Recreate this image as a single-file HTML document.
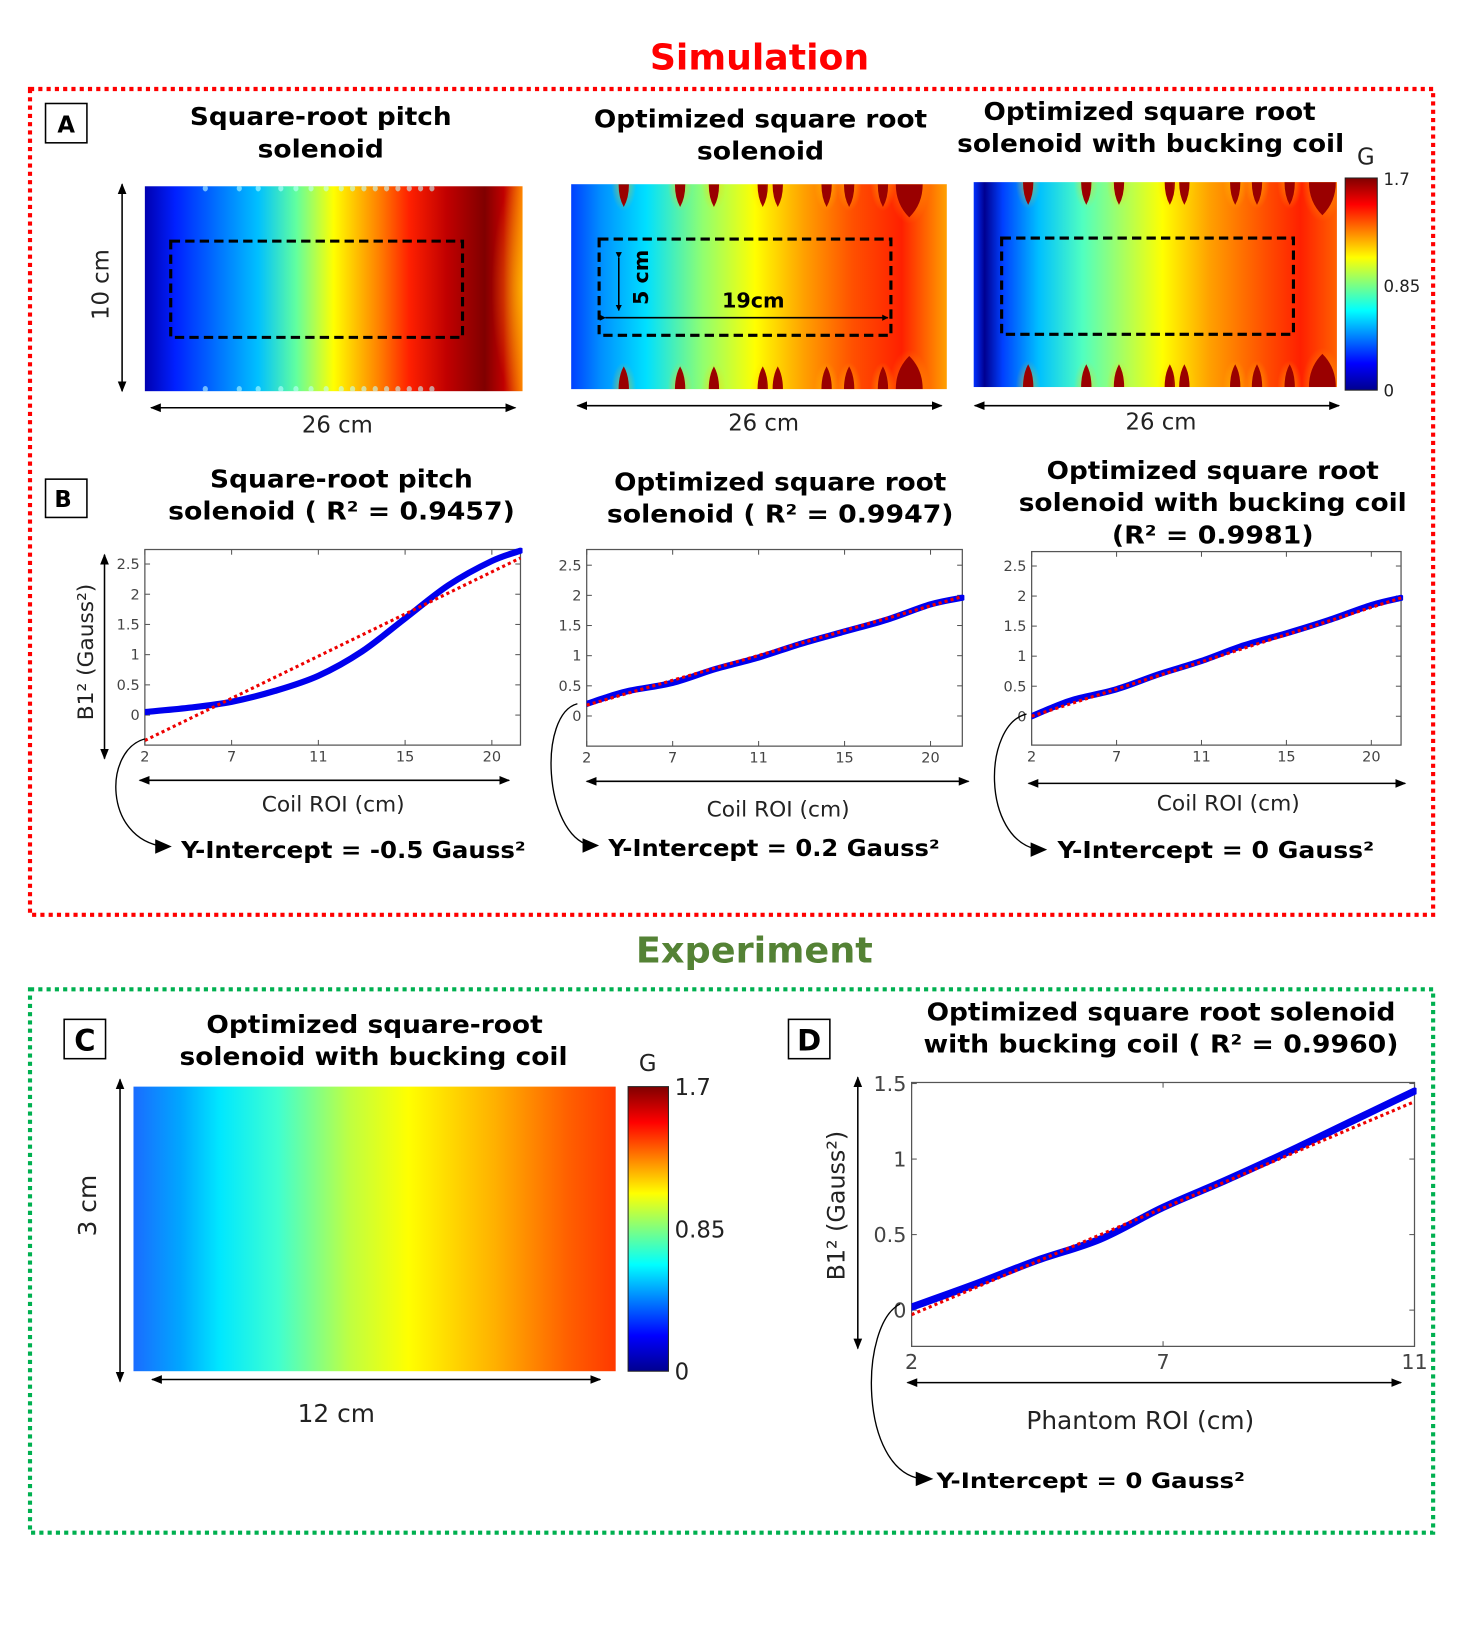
<!DOCTYPE html>
<html><head><meta charset="utf-8"><style>
html,body{margin:0;padding:0;background:#fff;}
svg{display:block;}
text{font-family:"DejaVu Sans","Liberation Sans",sans-serif;}
.t{font-weight:bold;fill:#000;}
.r{fill:#222;}
</style></head><body>
<svg id="fig" width="1459" height="1632" viewBox="0 0 1410 1577" preserveAspectRatio="none" xmlns="http://www.w3.org/2000/svg">
<defs>
<marker id="ah" viewBox="0 0 10 10" refX="9" refY="5" markerWidth="7" markerHeight="7" orient="auto-start-reverse"><path d="M0,1L10,5L0,9z" fill="#000"/></marker>
<marker id="bh" viewBox="0 0 10 10" refX="9" refY="5" markerWidth="4" markerHeight="4" orient="auto"><path d="M0,0L10,5L0,10z" fill="#000"/></marker>
<linearGradient id="jetV" x1="0" y1="1" x2="0" y2="0">
<stop offset="0" stop-color="#00008f"/><stop offset="0.125" stop-color="#0000ff"/><stop offset="0.375" stop-color="#00ffff"/><stop offset="0.625" stop-color="#ffff00"/><stop offset="0.875" stop-color="#ff0000"/><stop offset="1" stop-color="#800000"/></linearGradient>
<linearGradient id="g1" x1="0" x2="1" y1="0" y2="0">
<stop offset="0" stop-color="#0000b0"/><stop offset="0.08" stop-color="#0020ff"/><stop offset="0.3" stop-color="#00c0ff"/><stop offset="0.4" stop-color="#60ffa0"/><stop offset="0.5" stop-color="#ffff00"/><stop offset="0.62" stop-color="#ff8000"/><stop offset="0.7" stop-color="#ff2000"/><stop offset="0.8" stop-color="#c00000"/><stop offset="0.9" stop-color="#800000"/><stop offset="0.95" stop-color="#c00000"/><stop offset="1" stop-color="#ff8000"/></linearGradient>
<linearGradient id="g2" x1="0" x2="1" y1="0" y2="0">
<stop offset="0" stop-color="#0040ff"/><stop offset="0.08" stop-color="#0090ff"/><stop offset="0.2" stop-color="#00e0ff"/><stop offset="0.35" stop-color="#90ff70"/><stop offset="0.49" stop-color="#ffff00"/><stop offset="0.62" stop-color="#ffa000"/><stop offset="0.75" stop-color="#ff5000"/><stop offset="0.88" stop-color="#ff2000"/><stop offset="1" stop-color="#ffa000"/></linearGradient>
<linearGradient id="g3" x1="0" x2="1" y1="0" y2="0">
<stop offset="0" stop-color="#0030ff"/><stop offset="0.03" stop-color="#000090"/><stop offset="0.08" stop-color="#0040ff"/><stop offset="0.18" stop-color="#00c0ff"/><stop offset="0.3" stop-color="#50ffc0"/><stop offset="0.52" stop-color="#ffff00"/><stop offset="0.65" stop-color="#ffa000"/><stop offset="0.8" stop-color="#ff5000"/><stop offset="0.9" stop-color="#ff2000"/><stop offset="1" stop-color="#ff6000"/></linearGradient>
<linearGradient id="gC" x1="0" x2="1" y1="0" y2="0">
<stop offset="0" stop-color="#1a6cff"/><stop offset="0.1" stop-color="#00a8ff"/><stop offset="0.18" stop-color="#00e8ff"/><stop offset="0.3" stop-color="#40ffd0"/><stop offset="0.45" stop-color="#c0ff40"/><stop offset="0.57" stop-color="#ffff00"/><stop offset="0.75" stop-color="#ffb000"/><stop offset="0.9" stop-color="#ff6000"/><stop offset="1" stop-color="#ff3800"/></linearGradient>
<radialGradient id="halo"><stop offset="0" stop-color="#ffd000" stop-opacity="0.6"/><stop offset="1" stop-color="#ffd000" stop-opacity="0"/></radialGradient>
</defs>

<text x="734" y="67" text-anchor="middle" font-size="34" font-weight="bold" fill="#ff0000" textLength="212" lengthAdjust="spacingAndGlyphs">Simulation</text>
<rect x="29" y="86" width="1356" height="798" fill="none" stroke="#ff0000" stroke-width="4" stroke-dasharray="4,4"/>

<rect x="44" y="100" width="40" height="38" fill="#fff" stroke="#000" stroke-width="1.5"/>
<text class="t" x="64" y="128" text-anchor="middle" font-size="22">A</text>

<text class="t" x="310" y="121" text-anchor="middle" font-size="24" textLength="253" lengthAdjust="spacingAndGlyphs">Square-root pitch</text>
<text class="t" x="310" y="152" text-anchor="middle" font-size="24" textLength="122" lengthAdjust="spacingAndGlyphs">solenoid</text>
<text class="t" x="735" y="123" text-anchor="middle" font-size="24" textLength="322" lengthAdjust="spacingAndGlyphs">Optimized square root</text>
<text class="t" x="735" y="154" text-anchor="middle" font-size="24" textLength="123" lengthAdjust="spacingAndGlyphs">solenoid</text>
<text class="t" x="1111" y="116" text-anchor="middle" font-size="24" textLength="321" lengthAdjust="spacingAndGlyphs">Optimized square root</text>
<text class="t" x="1112" y="147" text-anchor="middle" font-size="24" textLength="374" lengthAdjust="spacingAndGlyphs">solenoid with bucking coil</text>

<g id="hms"></g>

<rect x="1300" y="172" width="31" height="205" fill="url(#jetV)" stroke="#222" stroke-width="1"/>
<text class="r" x="1320" y="159" text-anchor="middle" font-size="22">G</text>
<text class="r" x="1337" y="179" font-size="16">1.7</text>
<text class="r" x="1337" y="282" font-size="16">0.85</text>
<text class="r" x="1337" y="383" font-size="16">0</text>

<line x1="118" y1="178" x2="118" y2="378" stroke="#000" stroke-width="1.5" marker-start="url(#ah)" marker-end="url(#ah)"/>
<text class="r" x="0" y="0" font-size="22" text-anchor="middle" transform="translate(105,275) rotate(-90)">10 cm</text>
<line x1="146" y1="394" x2="498" y2="394" stroke="#000" stroke-width="1.5" marker-start="url(#ah)" marker-end="url(#ah)"/>
<text class="r" x="326" y="418" text-anchor="middle" font-size="22">26 cm</text>
<line x1="558" y1="392" x2="910" y2="392" stroke="#000" stroke-width="1.5" marker-start="url(#ah)" marker-end="url(#ah)"/>
<text class="r" x="738" y="416" text-anchor="middle" font-size="22">26 cm</text>
<line x1="942" y1="392" x2="1294" y2="392" stroke="#000" stroke-width="1.5" marker-start="url(#ah)" marker-end="url(#ah)"/>
<text class="r" x="1122" y="415" text-anchor="middle" font-size="22">26 cm</text>

<rect x="44" y="463" width="40" height="37" fill="#fff" stroke="#000" stroke-width="1.5"/>
<text class="t" x="61" y="490" text-anchor="middle" font-size="22">B</text>
<text class="t" x="330" y="471" text-anchor="middle" font-size="24" textLength="254" lengthAdjust="spacingAndGlyphs">Square-root pitch</text>
<text class="t" x="330" y="502" text-anchor="middle" font-size="24" textLength="335" lengthAdjust="spacingAndGlyphs">solenoid ( R² = 0.9457)</text>
<text class="t" x="754" y="474" text-anchor="middle" font-size="24" textLength="321" lengthAdjust="spacingAndGlyphs">Optimized square root</text>
<text class="t" x="754" y="505" text-anchor="middle" font-size="24" textLength="335" lengthAdjust="spacingAndGlyphs">solenoid ( R² = 0.9947)</text>
<text class="t" x="1172" y="463" text-anchor="middle" font-size="24" textLength="321" lengthAdjust="spacingAndGlyphs">Optimized square root</text>
<text class="t" x="1172" y="494" text-anchor="middle" font-size="24" textLength="375" lengthAdjust="spacingAndGlyphs">solenoid with bucking coil</text>
<text class="t" x="1172" y="525" text-anchor="middle" font-size="24" textLength="195" lengthAdjust="spacingAndGlyphs">(R² = 0.9981)</text>

<g id="plots"></g>

<line x1="101" y1="536" x2="101" y2="733" stroke="#000" stroke-width="1.5" marker-start="url(#ah)" marker-end="url(#ah)"/>
<text class="r" font-size="21" text-anchor="middle" transform="translate(90,630) rotate(-90)">B1² (Gauss²)</text>
<line x1="135" y1="754" x2="492" y2="754" stroke="#000" stroke-width="1.5" marker-start="url(#ah)" marker-end="url(#ah)"/>
<text class="r" x="322" y="784" text-anchor="middle" font-size="21">Coil ROI (cm)</text>
<line x1="567" y1="755" x2="936" y2="755" stroke="#000" stroke-width="1.5" marker-start="url(#ah)" marker-end="url(#ah)"/>
<text class="r" x="752" y="789" text-anchor="middle" font-size="21">Coil ROI (cm)</text>
<line x1="994" y1="757" x2="1358" y2="757" stroke="#000" stroke-width="1.5" marker-start="url(#ah)" marker-end="url(#ah)"/>
<text class="r" x="1187" y="783" text-anchor="middle" font-size="21">Coil ROI (cm)</text>

<path d="M140,714 C100,725 100,810 158,818" fill="none" stroke="#000" stroke-width="1.3"/>
<path d="M150,811 L166,818 L150,825z" fill="#000"/>
<text class="t" x="175" y="829" font-size="22" textLength="333" lengthAdjust="spacingAndGlyphs">Y-Intercept = -0.5 Gauss²</text>
<path d="M558,680 C520,690 525,805 570,817" fill="none" stroke="#000" stroke-width="1.3"/>
<path d="M563,810 L579,817 L563,824z" fill="#000"/>
<text class="t" x="588" y="827" font-size="22" textLength="320" lengthAdjust="spacingAndGlyphs">Y-Intercept = 0.2 Gauss²</text>
<path d="M992,690 C950,700 948,810 1003,821" fill="none" stroke="#000" stroke-width="1.3"/>
<path d="M996,814 L1012,821 L996,828z" fill="#000"/>
<text class="t" x="1022" y="829" font-size="22" textLength="306" lengthAdjust="spacingAndGlyphs">Y-Intercept = 0 Gauss²</text>

<text x="729" y="930" text-anchor="middle" font-size="34" font-weight="bold" fill="#548235" textLength="229" lengthAdjust="spacingAndGlyphs">Experiment</text>
<rect x="29" y="956" width="1356" height="525" fill="none" stroke="#00b050" stroke-width="4" stroke-dasharray="4,4"/>

<rect x="62" y="985" width="40" height="38" fill="#fff" stroke="#000" stroke-width="1.5"/>
<text class="t" x="82" y="1015" text-anchor="middle" font-size="28">C</text>
<text class="t" x="362" y="998" text-anchor="middle" font-size="24" textLength="325" lengthAdjust="spacingAndGlyphs">Optimized square-root</text>
<text class="t" x="361" y="1029" text-anchor="middle" font-size="24" textLength="375" lengthAdjust="spacingAndGlyphs">solenoid with bucking coil</text>
<rect x="129" y="1050" width="466" height="275" fill="url(#gC)"/>
<rect x="607" y="1050" width="39" height="275" fill="url(#jetV)" stroke="#222" stroke-width="1"/>
<text class="r" x="626" y="1035" text-anchor="middle" font-size="22">G</text>
<text class="r" x="652" y="1058" font-size="22">1.7</text>
<text class="r" x="652" y="1196" font-size="22">0.85</text>
<text class="r" x="652" y="1333" font-size="22">0</text>
<line x1="116" y1="1043" x2="116" y2="1335" stroke="#000" stroke-width="1.5" marker-start="url(#ah)" marker-end="url(#ah)"/>
<text class="r" font-size="24" text-anchor="middle" transform="translate(93,1165) rotate(-90)">3 cm</text>
<line x1="147" y1="1333" x2="580" y2="1333" stroke="#000" stroke-width="1.5" marker-start="url(#ah)" marker-end="url(#ah)"/>
<text class="r" x="325" y="1374" text-anchor="middle" font-size="24">12 cm</text>

<rect x="762" y="985" width="40" height="38" fill="#fff" stroke="#000" stroke-width="1.5"/>
<text class="t" x="782" y="1015" text-anchor="middle" font-size="28">D</text>
<text class="t" x="1122" y="986" text-anchor="middle" font-size="24" textLength="453" lengthAdjust="spacingAndGlyphs">Optimized square root solenoid</text>
<text class="t" x="1122" y="1017" text-anchor="middle" font-size="24" textLength="459" lengthAdjust="spacingAndGlyphs">with bucking coil ( R² = 0.9960)</text>
<line x1="829" y1="1041" x2="829" y2="1303" stroke="#000" stroke-width="1.5" marker-start="url(#ah)" marker-end="url(#ah)"/>
<text class="r" font-size="23" text-anchor="middle" transform="translate(816,1165) rotate(-90)">B1² (Gauss²)</text>
<line x1="877" y1="1336" x2="1354" y2="1336" stroke="#000" stroke-width="1.5" marker-start="url(#ah)" marker-end="url(#ah)"/>
<text class="r" x="1102" y="1381" text-anchor="middle" font-size="24">Phantom ROI (cm)</text>
<path d="M870,1260 C830,1280 830,1420 890,1429" fill="none" stroke="#000" stroke-width="1.3"/>
<path d="M885,1422 L902,1429 L885,1436z" fill="#000"/>
<text class="t" x="905" y="1438" font-size="21" textLength="298" lengthAdjust="spacingAndGlyphs">Y-Intercept = 0 Gauss²</text>
</svg>
<script>
// ---- Plot data (x as tick index: labels below) ----
const xTickLabelsB = ['2','7','11','15','20'];
const yTicksB = [0, 0.5, 1, 1.5, 2, 2.5];
const xTickLabelsD = ['2','7','11'];
const yTicksD = [0, 0.5, 1, 1.5];

const p1X = [0, 0.5, 1, 1.5, 2, 2.5, 3, 3.5, 4, 4.33];
const p1Blue = [0.05, 0.12, 0.22, 0.40, 0.65, 1.05, 1.60, 2.15, 2.55, 2.72];
const p1RedX = [0, 4.33];
const p1Red = [-0.42, 2.60];

const p2X = [0, 0.25, 0.5, 1, 1.5, 2, 2.5, 3, 3.5, 4, 4.37];
const p2Blue = [0.20, 0.32, 0.42, 0.55, 0.78, 0.97, 1.20, 1.40, 1.60, 1.85, 1.96];
const p2RedX = [0, 4.37];
const p2Red = [0.18, 1.98];

const p3X = [0, 0.25, 0.5, 1, 1.5, 2, 2.5, 3, 3.5, 4, 4.35];
const p3Blue = [0.00, 0.15, 0.28, 0.45, 0.70, 0.92, 1.18, 1.38, 1.60, 1.85, 1.97];
const p3RedX = [0, 4.35];
const p3Red = [0.00, 1.97];

const pDX = [0, 0.25, 0.5, 0.75, 1, 1.25, 1.5, 1.75, 2];
const pDBlue = [0.02, 0.17, 0.33, 0.47, 0.68, 0.86, 1.05, 1.25, 1.45];
const pDRedX = [0, 2];
const pDRed = [-0.03, 1.38];

// heatmap coil blob positions (fraction of width)
const blobs2 = [0.14, 0.29, 0.38, 0.51, 0.55, 0.68, 0.74, 0.83, 0.90];
const blobs3 = [0.15, 0.31, 0.40, 0.54, 0.58, 0.72, 0.78, 0.87, 0.96];
const dots1 = [0.16,0.25,0.3,0.36,0.4,0.44,0.48,0.52,0.55,0.58,0.61,0.64,0.67,0.7,0.73,0.76];

const NS = 'http://www.w3.org/2000/svg';
function el(tag, attrs, parent) {
  const e = document.createElementNS(NS, tag);
  for (const k in attrs) e.setAttribute(k, attrs[k]);
  parent.appendChild(e);
  return e;
}

const hms = document.getElementById('hms');
function heatmap(name, x, y, w, h, grad, blobs, big, dash) {
  const g = el('g', {}, hms);
  
  
  el('rect', {x:x, y:y, width:w, height:h, fill:'url(#' + grad + ')'}, g);
  const clip = el('clipPath', {id: name + '-clip'}, g);
  el('rect', {x:x, y:y, width:w, height:h}, clip);
  const inner = el('g', {'clip-path': 'url(#' + name + '-clip)'}, g);
  blobs.forEach((f, i) => {
    const bx = x + f * w;
    const isBig = big && i === blobs.length - 1;
    [y, y + h].forEach(ey => {
      const s = ey === y ? 1 : -1;
      el('ellipse', {cx:bx, cy:ey, rx:isBig?20:12, ry:isBig?38:26, fill:'url(#halo)'}, inner);
      const rw = isBig ? 13 : 5, rh = isBig ? 32 : 22;
      const b = el('path', {d:'M' + (bx - rw) + ',' + ey + ' Q' + (bx - rw) + ',' + (ey + s * rh * 0.6) + ' ' + bx + ',' + (ey + s * rh) + ' Q' + (bx + rw) + ',' + (ey + s * rh * 0.6) + ' ' + (bx + rw) + ',' + ey + 'z', fill:'#9a0000'}, inner);
      
    });
  });
  el('rect', {x:dash[0], y:dash[1], width:dash[2], height:dash[3], fill:'none', stroke:'#000', 'stroke-width':3, 'stroke-dasharray':'9,5'}, g);
  return inner;
}
const h1 = heatmap('heatmap-square-root-pitch', 140, 180, 365, 198, 'g1', [], false, [165,233,282,93]);
dots1.forEach(f => {
  [182, 376].forEach(yy => {
    const d = el('ellipse', {cx:140 + f * 365, cy:yy, rx:2.5, ry:3, fill:'#c0ffff', opacity:0.6}, h1);
    
  });
});
el('ellipse', {cx:505, cy:279, rx:30, ry:110, fill:'url(#halo)'}, h1);
heatmap('heatmap-optimized', 552, 178, 363, 198, 'g2', blobs2, true, [579,231,282,93]);
heatmap('heatmap-optimized-bucking', 941, 176, 351, 198, 'g3', blobs3, true, [968,230,282,93]);
const ann = el('g', {}, hms);


el('line', {x1:598, y1:249, x2:598, y2:300, stroke:'#000', 'stroke-width':1.5, 'marker-start':'url(#bh)', 'marker-end':'url(#bh)'}, ann);
el('line', {x1:585, y1:307, x2:858, y2:307, stroke:'#000', 'stroke-width':1.5, 'marker-start':'url(#bh)', 'marker-end':'url(#bh)'}, ann);
const t5 = el('text', {class:'t', 'font-size':20, 'text-anchor':'middle', transform:'translate(626,268) rotate(-90)'}, ann);
t5.textContent = '5 cm';
const t19 = el('text', {class:'t', x:728, y:297, 'font-size':20, 'text-anchor':'middle'}, ann);
t19.textContent = '19cm';

function smoothPath(pts) {
  let d = 'M' + pts[0][0] + ',' + pts[0][1];
  for (let i = 0; i < pts.length - 1; i++) {
    const p0 = pts[Math.max(0, i - 1)], p1 = pts[i], p2 = pts[i + 1], p3 = pts[Math.min(pts.length - 1, i + 2)];
    const c1x = p1[0] + (p2[0] - p0[0]) / 6, c1y = p1[1] + (p2[1] - p0[1]) / 6;
    const c2x = p2[0] - (p3[0] - p1[0]) / 6, c2y = p2[1] - (p3[1] - p1[1]) / 6;
    d += ' C' + c1x + ',' + c1y + ' ' + c2x + ',' + c2y + ' ' + p2[0] + ',' + p2[1];
  }
  return d;
}

const plots = document.getElementById('plots');
function plot(name, box, xMax, yMin, yMax, xLabels, yTicks, fs, xs, blue, rxs, red, bw) {
  const [L, T, R, B] = box;
  const sx = v => L + v / xMax * (R - L);
  const sy = v => B - (v - yMin) / (yMax - yMin) * (B - T);
  const g = el('g', {}, plots);
  
  
  el('rect', {x:L, y:T, width:R-L, height:B-T, fill:'#fff', stroke:'#555', 'stroke-width':1.2}, g);
  xLabels.forEach((lab, i) => {
    const x = sx(i);
    el('line', {x1:x, y1:B, x2:x, y2:B-5, stroke:'#555'}, g);
    el('line', {x1:x, y1:T, x2:x, y2:T+5, stroke:'#555'}, g);
    const t = el('text', {x:x, y:B + fs + 2, 'text-anchor':'middle', 'font-size':fs, fill:'#444'}, g);
    
    t.textContent = lab;
  });
  yTicks.forEach(v => {
    const y = sy(v);
    el('line', {x1:L, y1:y, x2:L+5, y2:y, stroke:'#555'}, g);
    el('line', {x1:R, y1:y, x2:R-5, y2:y, stroke:'#555'}, g);
    const t = el('text', {x:L - 5, y:y + fs * 0.35, 'text-anchor':'end', 'font-size':fs, fill:'#444'}, g);
    
    t.textContent = String(v);
  });
  const clip = el('clipPath', {id: name + '-clip'}, g);
  el('rect', {x:L, y:T-6, width:R-L+2, height:B-T+6}, clip);
  const inner = el('g', {'clip-path':'url(#' + name + '-clip)'}, g);
  const bl = el('path', {d: smoothPath(xs.map((x, i) => [sx(x), sy(blue[i])])), fill:'none', stroke:'#0000ee', 'stroke-width':bw, 'stroke-linejoin':'round', 'stroke-linecap':'round'}, inner);
  
  const rl = el('polyline', {points: rxs.map((x, i) => sx(x) + ',' + sy(red[i])).join(' '), fill:'none', stroke:'#ee0000', 'stroke-width':3, 'stroke-dasharray':'3,3'}, inner);
  
}
plot('plot-square-root-pitch', [140,531,503,720], 4.33, -0.497, 2.74, xTickLabelsB, yTicksB, 14, p1X, p1Blue, p1RedX, p1Red, 6);
plot('plot-optimized', [567,531,930,721], 4.37, -0.5, 2.76, xTickLabelsB, yTicksB, 14, p2X, p2Blue, p2RedX, p2Red, 6);
plot('plot-optimized-bucking', [997,533,1354,720], 4.35, -0.48, 2.74, xTickLabelsB, yTicksB, 14, p3X, p3Blue, p3RedX, p3Red, 6);
plot('plot-experiment', [881,1046,1367,1301], 2, -0.24, 1.507, xTickLabelsD, yTicksD, 20, pDX, pDBlue, pDRedX, pDRed, 7);
</script>
</body></html>
